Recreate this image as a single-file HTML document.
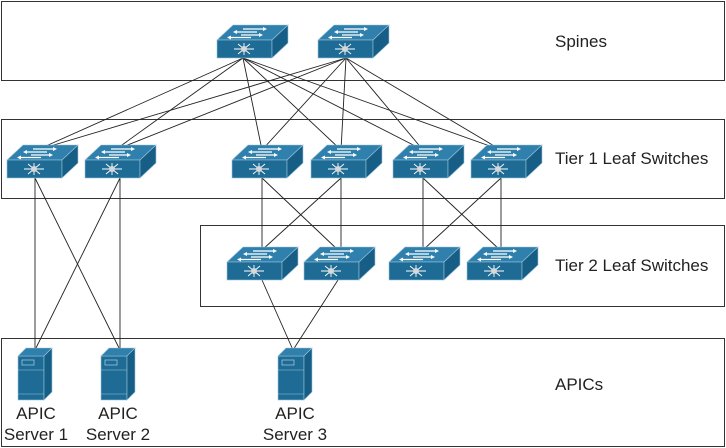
<!DOCTYPE html>
<html><head><style>
body{margin:0;background:#fff;}
svg{display:block;font-family:"Liberation Sans",sans-serif;}
</style></head><body>
<svg width="726" height="448" viewBox="0 0 726 448" xmlns="http://www.w3.org/2000/svg">
<defs>
<g id="sw">
<polygon points="0,0 16,-15 71,-15 55,0" fill="#2f80ad" stroke="#9cc3da" stroke-width="0.6"/>
<rect x="0" y="0" width="55" height="18" fill="#1e6b96" stroke="#9cc3da" stroke-width="0.6"/>
<polygon points="55,0 71,-15 71,3 55,18" fill="#175e86" stroke="#9cc3da" stroke-width="0.6"/>
<g stroke="#fff" stroke-width="1.3" fill="#fff">
<line x1="26" y1="-11" x2="46" y2="-11"/><polygon points="46,-13 50,-11 46,-9" stroke="none"/>
<line x1="40" y1="-8" x2="20" y2="-8"/><polygon points="20,-10 16,-8 20,-6" stroke="none"/>
<line x1="24" y1="-5" x2="42" y2="-5"/><polygon points="42,-7 46,-5 42,-3" stroke="none"/>
<line x1="34" y1="-2.5" x2="14" y2="-2.5"/><polygon points="14,-4.5 10,-2.5 14,-0.5" stroke="none"/>
</g>
<g stroke="#fff" stroke-width="0.9">
<line x1="17" y1="9" x2="37" y2="9"/><line x1="27" y1="3" x2="27" y2="15"/>
<line x1="21" y1="4" x2="33" y2="14"/><line x1="21" y1="14" x2="33" y2="4"/>
</g>
<circle cx="27" cy="9" r="3" fill="#d8d8d8"/>
</g>
<g id="srv">
<rect x="0" y="8" width="26" height="44" fill="#1e6b96" stroke="#9cc3da" stroke-width="0.6"/>
<polygon points="0,8 8,0 34,0 26,8" fill="#2f80ad" stroke="#9cc3da" stroke-width="0.6"/>
<polygon points="26,8 34,0 34,44 26,52" fill="#175e86" stroke="#9cc3da" stroke-width="0.6"/>
<rect x="4" y="12" width="12" height="5" fill="none" stroke="#9cc3da" stroke-width="0.8"/>
<line x1="0" y1="22" x2="26" y2="22" stroke="#9cc3da" stroke-width="0.6"/>
<line x1="0" y1="46" x2="26" y2="46" stroke="#9cc3da" stroke-width="0.6"/>
</g>
</defs>
<g fill="none" stroke="#333" stroke-width="1">
<rect x="1.5" y="1.5" width="723" height="79"/>
<rect x="1.5" y="119.5" width="723" height="79"/>
<rect x="200.5" y="225.5" width="524" height="81"/>
<rect x="1.5" y="338.5" width="723" height="108"/>
</g>
<g stroke="#222" stroke-width="0.9">
<line x1="243" y1="58" x2="37" y2="150"/><line x1="243" y1="58" x2="115" y2="150"/>
<line x1="243" y1="58" x2="262" y2="150"/><line x1="243" y1="58" x2="341" y2="150"/>
<line x1="243" y1="58" x2="423" y2="150"/><line x1="243" y1="58" x2="501" y2="150"/>
<line x1="346" y1="58" x2="37" y2="150"/><line x1="346" y1="58" x2="115" y2="150"/>
<line x1="346" y1="58" x2="262" y2="150"/><line x1="346" y1="58" x2="341" y2="150"/>
<line x1="346" y1="58" x2="423" y2="150"/><line x1="346" y1="58" x2="501" y2="150"/>
<line x1="262" y1="178" x2="262" y2="250"/><line x1="262" y1="178" x2="338" y2="250"/>
<line x1="341" y1="178" x2="341" y2="250"/><line x1="341" y1="178" x2="262" y2="250"/>
<line x1="423" y1="178" x2="423" y2="250"/><line x1="423" y1="178" x2="500" y2="250"/>
<line x1="501" y1="178" x2="501" y2="250"/><line x1="501" y1="178" x2="423" y2="250"/>
<line x1="35" y1="178" x2="35" y2="350"/><line x1="35" y1="178" x2="120" y2="350"/>
<line x1="120" y1="178" x2="120" y2="350"/><line x1="120" y1="178" x2="35" y2="350"/>
<line x1="262" y1="280" x2="293" y2="350"/><line x1="338" y1="280" x2="293" y2="350"/>
</g>
<use href="#sw" x="217" y="40"/><use href="#sw" x="318" y="40"/>
<use href="#sw" x="7" y="160"/><use href="#sw" x="85" y="160"/>
<use href="#sw" x="232" y="160"/><use href="#sw" x="311" y="160"/>
<use href="#sw" x="393" y="160"/><use href="#sw" x="471" y="160"/>
<use href="#sw" x="227" y="262"/><use href="#sw" x="304" y="262"/>
<use href="#sw" x="389" y="262"/><use href="#sw" x="467" y="262"/>
<use href="#srv" x="18" y="348"/><use href="#srv" x="101" y="348"/><use href="#srv" x="278" y="348"/>
<g font-size="17" fill="#222">
<text x="555" y="47">Spines</text>
<text x="555" y="164">Tier 1 Leaf Switches</text>
<text x="555" y="271">Tier 2 Leaf Switches</text>
<text x="555" y="390">APICs</text>
</g>
<g font-size="17" fill="#222" text-anchor="middle">
<text x="36" y="419">APIC</text><text x="36" y="440">Server 1</text>
<text x="118" y="419">APIC</text><text x="118" y="440">Server 2</text>
<text x="295" y="419">APIC</text><text x="295" y="440">Server 3</text>
</g>
</svg>
</body></html>
